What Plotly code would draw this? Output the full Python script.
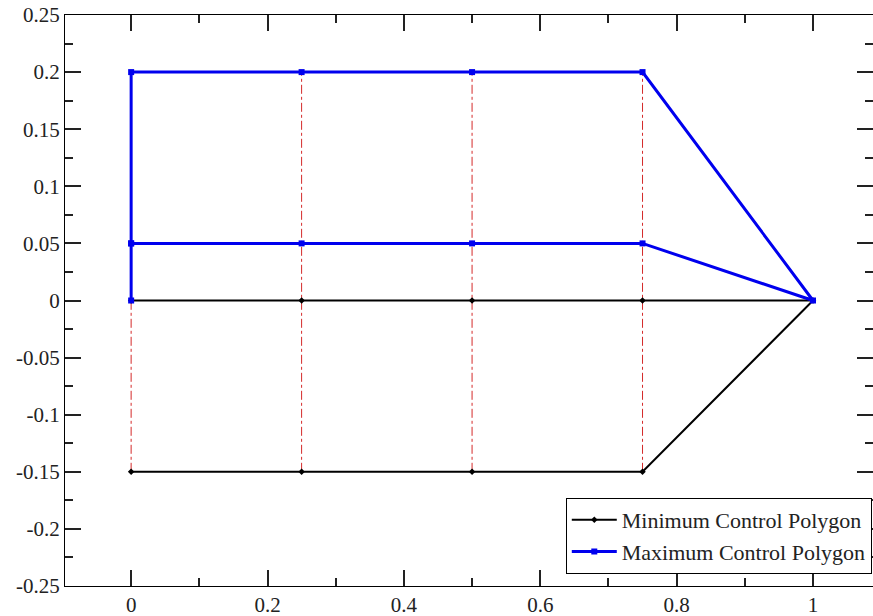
import plotly.graph_objects as go

# Minimum control polygon (black)
min_x = [0, 0.25, 0.5, 0.75, 1, 0.75, 0.5, 0.25, 0]
min_y = [0, 0, 0, 0, 0, -0.15, -0.15, -0.15, -0.15]

# Maximum control polygon (blue)
max_x = [0, 0, 0, 0.25, 0.5, 0.75, 1, 0.75, 0.5, 0.25, 0]
max_y = [0, 0.05, 0.2, 0.2, 0.2, 0.2, 0, 0.05, 0.05, 0.05, 0.05]

# Red dash-dot guide lines (vertical at each knot)
guide_xpos = [0, 0.25, 0.5, 0.75]
guide_ylow = -0.15
guide_yhigh = 0.2

x_tickvals = [0, 0.2, 0.4, 0.6, 0.8, 1]
x_ticktext = ["0", "0.2", "0.4", "0.6", "0.8", "1"]
y_tickvals = [0.25, 0.2, 0.15, 0.1, 0.05, 0, -0.05, -0.1, -0.15, -0.2, -0.25]
y_ticktext = ["0.25", "0.2", "0.15", "0.1", "0.05", "0", "-0.05", "-0.1", "-0.15", "-0.2", "-0.25"]

gx, gy = [], []
for xv in guide_xpos:
    gx += [xv, xv, None]
    gy += [guide_ylow, guide_yhigh, None]

FONT = "Liberation Serif"

fig = go.Figure()
fig.add_trace(go.Scatter(
    x=gx, y=gy, mode="lines", showlegend=False,
    line=dict(color="#d42a2a", width=1, dash="dashdot"),
    hoverinfo="skip",
))
fig.add_trace(go.Scatter(
    x=min_x, y=min_y, mode="lines+markers", name="Minimum Control Polygon",
    line=dict(color="black", width=2),
    marker=dict(symbol="diamond", size=5, color="black"),
))
fig.add_trace(go.Scatter(
    x=max_x, y=max_y, mode="lines+markers", name="Maximum Control Polygon",
    line=dict(color="#0000ee", width=3),
    marker=dict(symbol="square", size=6, color="#0000ee"),
))

axis_common = dict(
    showgrid=False, zeroline=False, showline=True, linecolor="black", linewidth=1,
    mirror="ticks", ticks="inside", ticklen=16, tickwidth=1.5, tickcolor="#222",
    tickfont=dict(family=FONT, size=21, color="#222"), automargin=False,
)

fig.update_xaxes(
    range=[-0.097, 1.088], tickvals=x_tickvals, ticktext=x_ticktext,
    minor=dict(ticks="inside", ticklen=8, tickwidth=1.5, tickcolor="#222", dtick=0.1, tick0=0),
    ticklabelstandoff=0,
    **axis_common,
)
fig.update_yaxes(
    range=[-0.25, 0.25], tickvals=y_tickvals, ticktext=y_ticktext,
    minor=dict(ticks="inside", ticklen=8, tickwidth=1.5, tickcolor="#222", dtick=0.025, tick0=0),
    **axis_common,
)

fig.update_layout(
    width=873, height=616,
    margin=dict(l=65, r=0, t=15, b=30, autoexpand=False),
    plot_bgcolor="white", paper_bgcolor="white",
    font=dict(family=FONT, size=21, color="#222"),
    legend=dict(
        x=0.9985, y=0.021, xanchor="right", yanchor="bottom",
        bgcolor="white", bordercolor="black", borderwidth=1,
        font=dict(family=FONT, size=22, color="#222"),
        tracegroupgap=0, itemwidth=45,
    ),
)

fig.write_html(
    "out.html",
    config={"displayModeBar": False},
    post_script="document.body.style.margin='0';document.body.style.overflow='hidden';",
)
